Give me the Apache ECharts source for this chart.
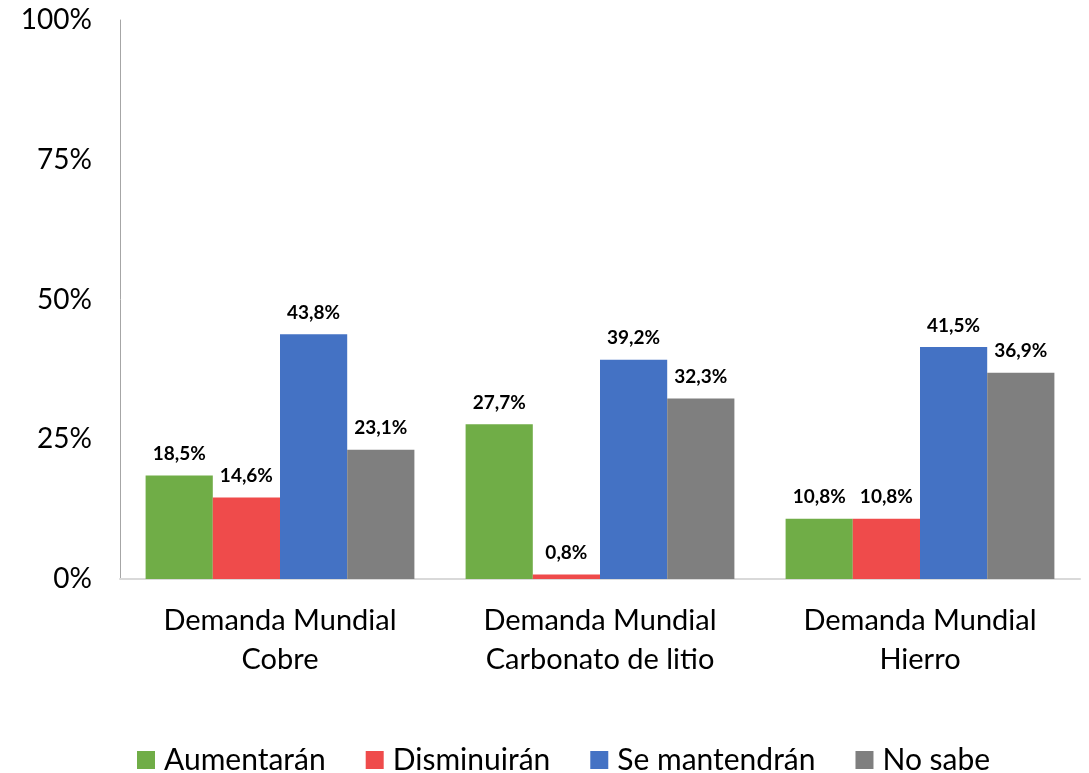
<!DOCTYPE html>
<html>
<head>
	<meta charset="utf-8">
	<title>Demanda Mundial</title>
	<script src="https://cdn.jsdelivr.net/npm/echarts@6/dist/echarts.min.js"></script>
	<style>
		html, body { margin: 0; padding: 0; background: #fff; }
		#chart { width: 1089px; height: 773px; }
	</style>
</head>
<body>
	<div id="chart"></div>
	<script>
		var categories = ['Demanda Mundial\nCobre', 'Demanda Mundial\nCarbonato de litio', 'Demanda Mundial\nHierro'];
		var seriesNames = ['Aumentarán', 'Disminuirán', 'Se mantendrán', 'No sabe'];
		var aumentaran = [18.5, 27.7, 10.8];
		var disminuiran = [14.6, 0.8, 10.8];
		var mantendran = [43.8, 39.2, 41.5];
		var noSabe = [23.1, 32.3, 36.9];
		var yTicks = [0, 25, 50, 75, 100];
		var colors = ['#70AD47', '#EF4B4B', '#4472C4', '#7F7F7F'];

		var font = 'Lato, "Liberation Sans", sans-serif';
		var allValues = [aumentaran, disminuiran, mantendran, noSabe];

		var chart = echarts.init(document.getElementById('chart'));
		chart.setOption({
			animation: false,
			color: colors,
			grid: { left: 120, right: 9, top: 20, bottom: 194, containLabel: false },
			legend: {
				top: 738,
				left: 132,
				padding: 5,
				itemWidth: 18,
				itemHeight: 18,
				itemGap: 40,
				icon: 'rect',
				textStyle: { fontFamily: font, fontSize: 30, lineHeight: 34, color: '#000', padding: [0, 0, 0, 4] },
				data: seriesNames
			},
			xAxis: {
				type: 'category',
				data: categories,
				axisLine: { lineStyle: { color: '#D9D9D9', width: 2 } },
				axisTick: { show: false },
				axisLabel: { fontFamily: font, fontSize: 29, color: '#000', lineHeight: 39, margin: 22 }
			},
			yAxis: {
				type: 'value',
				min: yTicks[0],
				max: yTicks[yTicks.length - 1],
				interval: 25,
				splitLine: { show: false },
				axisLine: { show: true, lineStyle: { color: '#A6A6A6', width: 1 } },
				axisTick: { show: false },
				axisLabel: { fontFamily: font, fontSize: 28, color: '#000', margin: 28, formatter: '{value}%' }
			},
			series: seriesNames.map(function (name, i) {
				return {
					name: name,
					type: 'bar',
					barGap: '0%',
					barCategoryGap: '16%',
					data: allValues[i],
					label: {
						show: true,
						position: 'top',
						distance: 12,
						fontFamily: font,
						fontWeight: 'bold',
						fontSize: 19,
						color: '#000',
						formatter: function (p) { return p.value.toFixed(1).replace('.', ',') + '%'; }
					}
				};
			})
		});
	</script>
</body>
</html>
